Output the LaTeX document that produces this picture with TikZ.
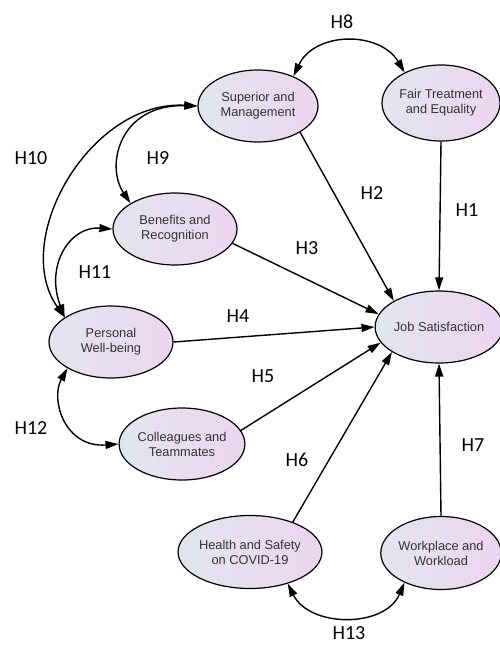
\documentclass[tikz,border=0pt]{standalone}
\usepackage{fontspec}
\setmainfont{Liberation Sans}
\newfontfamily\labfont{Carlito}
\usetikzlibrary{shapes.geometric,arrows.meta}
\definecolor{shadeL}{RGB}{226,229,239}
\definecolor{shadeR}{RGB}{236,213,240}
\tikzset{
  cnode/.style={ellipse, draw=black, line width=1.2pt, left color=shadeL, right color=shadeR,
    inner sep=0pt, align=center, font=\fontsize{12.8}{15}\selectfont, text=black!80},
  hlab/.style={font=\labfont\fontsize{20}{20}\selectfont, text=black, inner sep=1pt},
  tipT/.tip={Triangle[length=13pt,width=8pt]},
  arr/.style={line width=1.4pt, -tipT},
  biarr/.style={line width=1.4pt, tipT-tipT},
}
\begin{document}
\begin{tikzpicture}[x=1pt,y=1pt]
\path[fill=white] (0,0) rectangle (499,-645);
\useasboundingbox (0,0) rectangle (499,-645);

% nodes
\node[cnode, minimum width=120pt, minimum height=72pt] (sup) at (258,-106) {Superior and\\Management};
\node[cnode, minimum width=116pt, minimum height=76pt] (fair) at (441,-103) {Fair Treatment\\and Equality};
\node[cnode, minimum width=124pt, minimum height=72pt] (ben) at (175,-229) {Benefits and\\Recognition};
\node[cnode, minimum width=124pt, minimum height=72pt] (per) at (111,-342) {Personal\\Well-being};
\node[cnode, minimum width=124pt, minimum height=72pt] (col) at (182,-444) {Colleagues and\\Teammates};
\node[cnode, minimum width=120pt, minimum height=72pt] (job) at (439,-327) {Job Satisfaction};
\node[cnode, minimum width=125pt, minimum height=73pt] (hea) at (250,-552) {Health and Safety\\on COVID-19};
\node[cnode, minimum width=116pt, minimum height=73pt] (wor) at (441,-553) {Workplace and\\Workload};

% straight paths
\draw[arr] (fair.south) -- (job.north);
\draw[arr] (sup.328) -- (job.150);
\draw[arr] (ben.346) -- (job.168);
\draw[arr] (per.east) -- (job.west);
\draw[arr] (col.13) -- (job.195);
\draw[arr] (hea.35) -- (job.208);
\draw[arr] (wor.north) -- (job.south);

% covariances
\draw[biarr] (sup.40) .. controls (315,-31) and (380,-31) .. (fair.140);
\draw[biarr] (sup.180) .. controls (120,-104) and (105,-165) .. (ben.150);
\draw[biarr] (sup.180) .. controls (90,-100) and (10,-240) .. (per.152);
\draw[biarr] (per.152) .. controls (45,-265) and (70,-226) .. (ben.180);
\draw[biarr] (per.211) .. controls (50,-400) and (65,-448) .. (col.180);
\draw[biarr] (hea.320) .. controls (310,-628) and (385,-628) .. (wor.219);

% labels
\node[hlab] (h1) at (467,-210) {H1};
\node[hlab] (h2) at (372,-193) {H2};
\node[hlab] (h3) at (307,-248) {H3};
\node[hlab] (h4) at (238,-316) {H4};
\node[hlab] (h5) at (263,-376) {H5};
\node[hlab] (h6) at (297,-460) {H6};
\node[hlab] (h7) at (473,-445) {H7};
\node[hlab] (h8) at (342,-22) {H8};
\node[hlab] (h9) at (158,-158) {H9};
\node[hlab] (h10) at (31,-158) {H10};
\node[hlab] (h11) at (95,-272) {H11};
\node[hlab] (h12) at (31,-428) {H12};
\node[hlab] (h13) at (349,-633) {H13};
\end{tikzpicture}
\end{document}
